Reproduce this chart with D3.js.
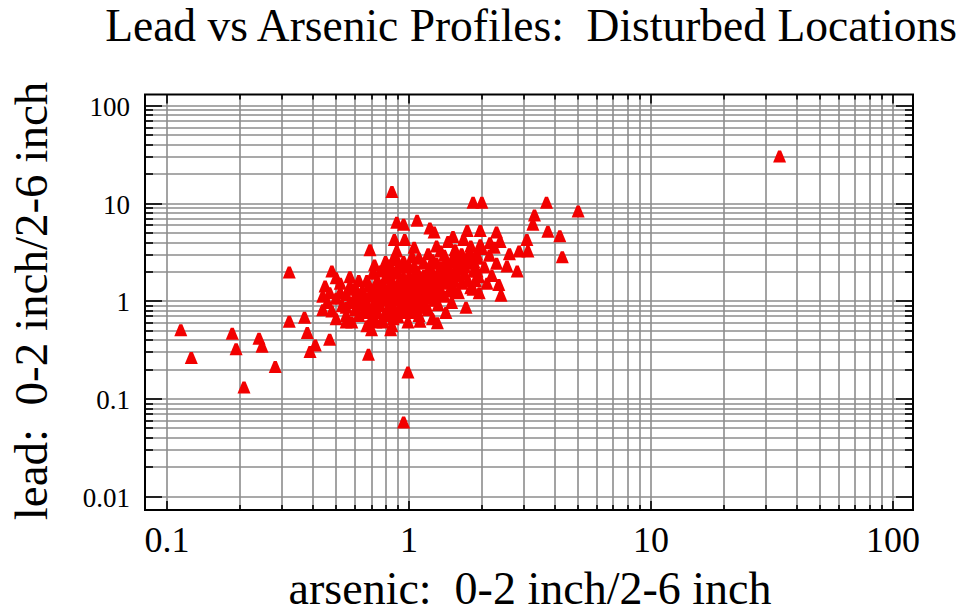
<!DOCTYPE html>
<html>
<head>
<meta charset="utf-8">
<script src="https://cdn.jsdelivr.net/npm/d3@7"></script>
<style>
  html, body { margin: 0; padding: 0; background: #fff; }
  svg { display: block; }
  text { font-family: "Liberation Serif", "Times New Roman", serif; fill: #000; }
</style>
</head>
<body>
<svg id="chart" width="963" height="613"></svg>
<script>
// ---- data (arsenic ratio, lead ratio) ----
const arsenic = [
  34, 0.114, 0.126, 0.186, 0.193, 0.208, 0.24, 0.247, 0.28, 0.32,
  0.32, 0.37, 0.38, 0.39, 0.41, 0.47, 0.68, 0.69, 0.48, 0.45,
  0.57, 0.85, 0.89, 0.95, 1.08, 0.87, 0.96, 1.22, 1.27, 1.84,
  2.0, 3.7, 5.0, 3.3, 3.25, 3.75, 4.2, 4.3, 3.07, 2.4,
  0.99, 0.95, 1.31, 1.11, 1.74, 1.97, 2.3, 1.52, 2.16, 1.97,
  2.6, 2.85, 3.1, 2.54, 2.8, 1.91, 1.84, 1.94, 2.38,
  // dense cluster
  0.46, 0.47, 0.48, 0.5, 0.5, 0.52, 0.53, 0.55, 0.55, 0.57, 0.58, 0.6, 0.6, 0.58, 0.62, 0.62,
  0.64, 0.65, 0.66, 0.67, 0.68, 0.68, 0.7, 0.7, 0.71, 0.72, 0.73, 0.74, 0.74, 0.75, 0.7, 0.72,
  0.76, 0.77, 0.78, 0.78, 0.8, 0.8, 0.81, 0.82, 0.83, 0.84, 0.85, 0.85, 0.86, 0.87, 0.88, 0.88, 0.9, 0.9, 0.89,
  0.92, 0.93, 0.94, 0.95, 0.96, 0.97, 0.98, 0.99, 1.0, 1.0, 1.02, 1.03, 1.04, 1.05, 1.05,
  1.07, 1.08, 1.1, 1.1, 1.12, 1.13, 1.15, 1.16, 1.18, 1.2, 1.2, 1.22, 1.23, 1.25, 1.25,
  1.28, 1.3, 1.3, 1.32, 1.35, 1.36, 1.38, 1.4, 1.42, 1.44, 1.45, 1.47, 1.5, 1.5,
  1.53, 1.55, 1.58, 1.6, 1.62, 1.65, 1.68, 1.7, 1.72, 1.75, 1.78, 1.8, 1.85, 1.88,
  1.92, 1.95, 2.0, 2.05, 2.1, 2.15, 2.2, 2.25, 2.3, 2.35,
  0.44, 0.44, 0.5, 0.55, 0.73, 0.84, 0.8, 0.9,
  0.75, 0.78, 0.8, 0.82, 0.85, 0.87, 0.9, 0.92, 0.93, 0.95, 0.97, 1.0, 1.02, 1.03, 1.05,
  1.08, 1.1, 1.12, 1.15, 1.17, 1.2, 1.22, 1.25, 1.28, 1.3, 1.33, 1.36, 1.4, 1.42, 1.45,
  1.48, 1.52, 1.55, 1.58, 1.62, 1.65, 1.7, 1.75, 1.8, 1.85, 1.9, 0.6, 0.62, 0.65, 0.67,
  0.7, 0.72, 0.76, 0.79, 0.83, 0.86, 0.88, 0.95, 1.0, 1.1, 1.2, 1.35, 0.55, 0.52, 0.57,
  0.85, 0.9, 0.95, 1.0, 1.05, 1.1, 1.15, 1.2, 1.25, 1.3, 1.35, 1.4, 1.45, 1.5, 1.55,
  1.6, 1.7, 1.75, 0.75, 0.8, 0.7, 0.65, 0.6, 1.0, 1.1, 1.15, 1.3, 0.95, 1.05, 0.85
];
const lead = [
  30, 0.5, 0.26, 0.46, 0.32, 0.13, 0.41, 0.34, 0.21, 1.95,
  0.61, 0.67, 0.47, 0.30, 0.35, 0.40, 0.28, 3.3, 2.0, 1.4,
  1.4, 13, 6.3, 6.0, 6.6, 4.2, 4.2, 5.5, 5.0, 10.1,
  10.1, 10.1, 8.2, 7.5, 6.0, 5.1, 4.6, 2.8, 4.2, 1.13,
  0.185, 0.057, 0.59, 0.61, 5.2, 5.2, 5.0, 4.5, 3.9, 3.7,
  3.0, 3.2, 3.2, 2.25, 2.0, 2.0, 1.3, 1.75, 4.0,
  // dense cluster
  0.95, 1.2, 0.78, 1.05, 0.65, 1.5, 0.88, 1.15, 0.7, 0.95, 1.3, 0.8, 1.1, 0.6, 1.6, 0.92,
  1.25, 0.75, 1.0, 0.55, 1.4, 0.85, 1.15, 0.65, 1.9, 0.95, 1.3, 0.75, 1.6, 1.05, 0.5, 2.3,
  0.88, 1.2, 0.6, 1.45, 1.0, 2.1, 0.72, 1.3, 0.9, 1.7, 1.1, 0.55, 2.6, 0.8, 1.35, 1.0, 1.9, 0.68, 3.2,
  1.2, 0.9, 1.55, 0.75, 2.2, 1.05, 1.4, 0.6, 1.75, 0.95, 1.2, 2.8, 0.82, 1.5, 3.5,
  1.05, 2.0, 0.7, 1.3, 1.7, 0.9, 2.4, 1.15, 1.45, 0.8, 3.0, 1.9, 1.05, 2.6, 0.65,
  1.3, 1.7, 3.6, 0.9, 2.2, 1.15, 1.5, 2.9, 0.75, 1.9, 4.0, 1.25, 2.5, 0.95,
  1.6, 3.3, 2.1, 1.2, 2.8, 1.5, 4.2, 1.85, 0.85, 2.4, 3.1, 1.35, 2.0, 1.6,
  2.7, 1.2, 3.4, 2.2, 1.5, 2.9, 1.8, 3.5, 2.4, 1.45,
  0.8, 1.1, 1.7, 0.6, 0.6, 0.5, 2.5, 2.2,
  0.9, 1.1, 1.25, 0.8, 1.5, 1.15, 1.05, 0.8, 1.35, 1.7, 0.9, 1.3, 0.75, 1.1, 2.2,
  1.5, 0.95, 1.2, 1.8, 0.85, 1.35, 2.2, 1.6, 1.0, 2.4, 1.4, 1.8, 1.1, 2.5, 1.6,
  2.0, 1.35, 2.6, 1.8, 2.3, 3.0, 2.6, 1.6, 3.6, 2.5, 3.0, 1.35, 0.7, 1.15, 1.6,
  0.8, 1.1, 2.0, 0.7, 2.3, 0.65, 2.8, 2.5, 2.2, 2.7, 1.1, 3.2, 0.85, 1.2, 1.75,
  1.25, 1.45, 1.0, 1.55, 1.25, 1.65, 1.4, 1.6, 1.85, 1.5, 2.0, 1.7, 2.2, 1.8, 2.0,
  2.5, 2.2, 2.8, 1.35, 1.7, 1.25, 0.9, 1.0, 0.8, 0.85, 1.05, 1.2, 1.2, 1.8, 2.0
];
const xTickValues = [0.1, 1, 10, 100];
const xTickLabels = ["0.1", "1", "10", "100"];
const yTickValues = [0.01, 0.1, 1, 10, 100];
const yTickLabels = ["0.01", "0.1", "1", "10", "100"];
const titleText = "Lead vs Arsenic Profiles:\u00a0\u00a0Disturbed Locations";
const xLabelText = "arsenic:\u00a0\u00a00-2 inch/2-6 inch";
const yLabelText = "lead:\u00a0\u00a00-2 inch/2-6 inch";

// ---- layout ----
const L = 145, R = 913, T = 94.5, B = 510;
const svg = d3.select("#chart");

const x = d3.scaleLog().domain([0.0811, 121]).range([L, R]);
const y = d3.scaleLog().domain([0.00731, 131.2]).range([B, T]);

function gridVals(lo, hi) {
  const out = [];
  for (let e = lo; e < hi; e++) {
    for (let m = 1; m <= 9; m++) out.push(m * Math.pow(10, e));
  }
  out.push(Math.pow(10, hi));
  return out;
}
const xGrid = gridVals(-1, 2);
const yGrid = gridVals(-2, 2);
const isMajor = v => Math.abs(Math.log10(v) - Math.round(Math.log10(v))) < 1e-9;

const grid = svg.append("g").attr("stroke", "#8c8c8c").attr("stroke-width", 1.6);
grid.selectAll(".gx").data(xGrid).join("line")
  .attr("x1", d => Math.round(x(d))).attr("x2", d => Math.round(x(d)))
  .attr("y1", T).attr("y2", B);
grid.selectAll(".gy").data(yGrid).join("line")
  .attr("y1", d => Math.round(y(d))).attr("y2", d => Math.round(y(d)))
  .attr("x1", L).attr("x2", R);

const ticks = svg.append("g").attr("stroke", "#000").attr("stroke-width", 1.6);
xGrid.forEach(d => {
  const len = isMajor(d) ? 9 : 5;
  const px = Math.round(x(d));
  ticks.append("line").attr("x1", px).attr("x2", px).attr("y1", B).attr("y2", B - len);
  ticks.append("line").attr("x1", px).attr("x2", px).attr("y1", T).attr("y2", T + len);
});
yGrid.forEach(d => {
  const len = isMajor(d) ? 17 : 8;
  const py = Math.round(y(d));
  ticks.append("line").attr("y1", py).attr("y2", py).attr("x1", L).attr("x2", L + len);
  ticks.append("line").attr("y1", py).attr("y2", py).attr("x1", R).attr("x2", R - len);
});

svg.append("rect").attr("x", L).attr("y", T).attr("width", R - L).attr("height", B - T)
  .attr("fill", "none").attr("stroke", "#000").attr("stroke-width", 2);

const pts = arsenic.map((a, i) => ({ a, l: lead[i] }));
svg.append("g").selectAll("path").data(pts).join("path")
  .attr("d", "M-1.5,-6.5 L1.5,-6.5 L6.5,5.5 L-6.5,5.5 Z")
  .attr("transform", d => `translate(${x(d.a)},${y(d.l)})`)
  .attr("fill", "#f20000");

svg.append("g").selectAll("text").data(xTickValues).join("text")
  .attr("x", d => x(d)).attr("y", 552)
  .attr("text-anchor", "middle").attr("font-size", 36)
  .text((d, i) => xTickLabels[i]);
svg.append("g").selectAll("text").data(yTickValues).join("text")
  .attr("x", 130).attr("y", d => y(d) + 10)
  .attr("text-anchor", "end").attr("font-size", 27)
  .text((d, i) => yTickLabels[i]);

svg.append("text").attr("x", 531).attr("y", 41).attr("text-anchor", "middle")
  .attr("font-size", 45.5).text(titleText);
svg.append("text").attr("x", 530).attr("y", 604).attr("text-anchor", "middle")
  .attr("font-size", 46).text(xLabelText);
svg.append("text").attr("transform", "translate(47,301) rotate(-90)")
  .attr("text-anchor", "middle").attr("font-size", 47).text(yLabelText);
</script>
</body>
</html>
